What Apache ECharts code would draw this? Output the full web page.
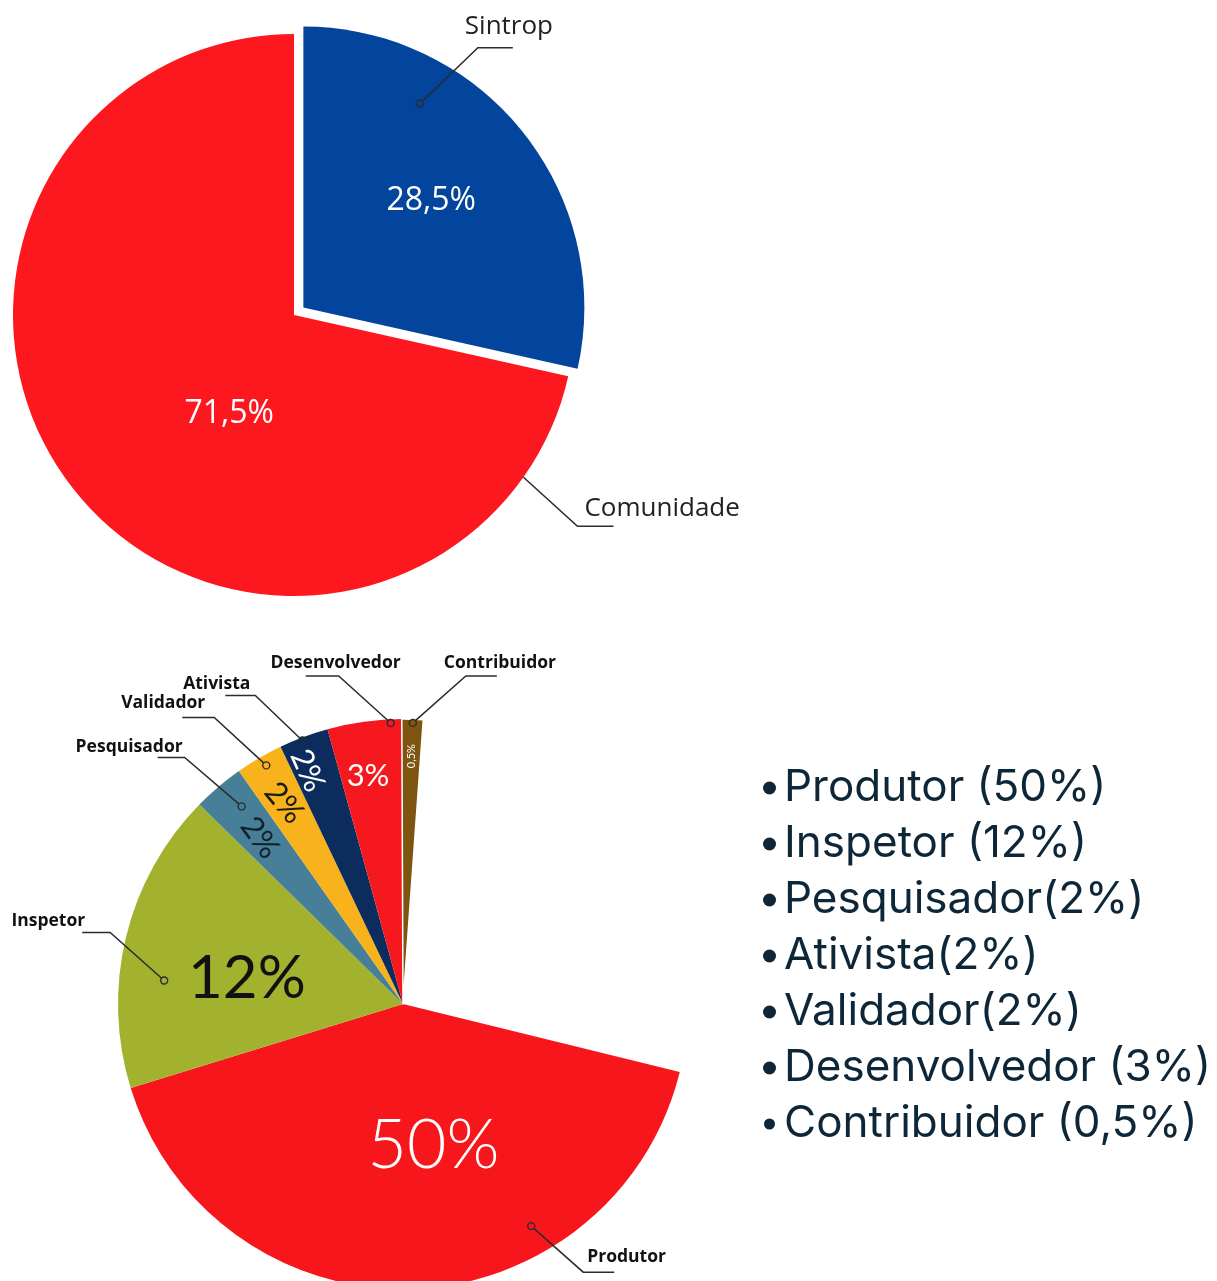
<!DOCTYPE html>
<html>
<head>
<meta charset="utf-8">
<title>Sintrop</title>
<script src="https://cdn.jsdelivr.net/npm/echarts@6/dist/echarts.min.js"></script>
<style>
  html, body { margin: 0; padding: 0; background: #fff; }
  #main { width: 1217px; height: 1281px; }
</style>
</head>
<body>
<div id="main"></div>
<script>
// top pie
const shareNames = ['Sintrop', 'Comunidade'];
const shareValues = [28.5, 71.5];
const shareLabels = ['28,5%', '71,5%'];

// bottom pie - slice sizes as drawn (% of the full circle), clockwise from Produtor
const roleNames = ['Produtor', 'Inspetor', 'Pesquisador', 'Validador', 'Ativista', 'Desenvolvedor', 'Contribuidor'];
const roleShares = [41.4, 17.1, 2.9, 2.7, 2.8, 4.2, 1.2];
const roleLabels = ['50%', '12%', '2%', '2%', '2%', '3%', '0,5%'];
const blankShare = 27.7;

// list on the right
const legendNames = ['Produtor', 'Inspetor', 'Pesquisador', 'Ativista', 'Validador', 'Desenvolvedor', 'Contribuidor'];
const legendTexts = ['Produtor (50%)', 'Inspetor (12%)', 'Pesquisador(2%)', 'Ativista(2%)', 'Validador(2%)', 'Desenvolvedor (3%)', 'Contribuidor (0,5%)'];

const topColors = ['#03449c', '#fd171f'];
const roleColors = ['#f8161d', '#a3b22e', '#467f97', '#f8b21b', '#0b2c5d', '#f5191f', '#7d5511'];
const lineColor = '#2b2b2b';

const topLayout = { center: [294, 315], radius: 281, startAngle: 90 };
const botLayout = { center: [403, 1004], radius: 285, startAngle: -13.8 };

// callouts + inside labels, one entry per slice
// at / inAt: position inside the slice (0..1), r / inR: fraction of radius
const topMarks = [
  { at: 0.30, r: 0.875, dot: true, leg: [58, -56], run: 35, text: [-13, -21], align: 'left',
    inAt: 0.49, inR: 0.635, inFont: 32, inWeight: 400, inColor: '#fff', inRot: 0 },
  { at: 0.088, r: 1.0, dot: false, leg: [54, 49], run: 36, text: [7, -18], align: 'left',
    inAt: 0.43, inR: 0.42, inFont: 32, inWeight: 400, inColor: '#fff', inRot: 0 }
];
const roleMarks = [
  { at: 0.31, r: 0.90, dot: true, leg: [52, 46], run: 31, text: [4, -15], align: 'left',
    inAt: 0.43, inR: 0.51, inFont: 68, inWeight: 300, inColor: '#fff', inRot: 0 },
  { at: 0.37, r: 0.842, dot: true, leg: [-54, -48], run: -28, text: [-25, -11], align: 'right',
    inAt: 0.43, inR: 0.555, inFont: 60, inWeight: 400, inColor: '#111', inRot: 0 },
  { at: 0.61, r: 0.895, dot: true, leg: [-57, -49], run: -27, text: [-2, -10], align: 'right',
    inAt: 0.47, inR: 0.77, inFont: 31, inWeight: 400, inColor: '#13212c', inRot: -54 },
  { at: 0.55, r: 0.965, dot: true, leg: [-52, -48], run: -32, text: [-9, -14], align: 'right',
    inAt: 0.47, inR: 0.82, inFont: 31, inWeight: 400, inColor: '#1a1a1a', inRot: -50 },
  { at: 0.45, r: 0.99, dot: true, leg: [-47, -45], run: -30, text: [-5, -11], align: 'right',
    inAt: 0.32, inR: 0.885, inFont: 31, inWeight: 400, inColor: '#fff', inRot: -66 },
  { at: 0.85, r: 0.987, dot: true, leg: [-52, -47], run: -33, text: [62, -13], align: 'right',
    inAt: 0.44, inR: 0.81, inFont: 31, inWeight: 400, inColor: '#fff', inRot: 0 },
  { at: 0.52, r: 0.987, dot: true, leg: [53, -47], run: 31, text: [-22, -13], align: 'left',
    inAt: 0.5, inR: 0.87, inFont: 11, inWeight: 400, inColor: '#fff', inRot: 90 }
];

function calloutSeries(polarIndex, names, shares, labels, colors, marks, nameFont, inFamily) {
  const starts = [];
  let acc = 0;
  shares.forEach(v => { starts.push(acc); acc += v; });
  const deg = (i, at) => (starts[i] + shares[i] * at) * 3.6;
  return {
    type: 'custom',
    coordinateSystem: 'polar',
    polarIndex: polarIndex,
    silent: true,
    z: 5,
    data: marks.map((m, i) => [m.r, deg(i, m.at)]),
    renderItem(params, api) {
      const i = params.dataIndex;
      const m = marks[i];
      const p = api.coord([api.value(0), api.value(1)]);
      const elbow = [p[0] + m.leg[0], p[1] + m.leg[1]];
      const end = [elbow[0] + m.run, elbow[1]];
      const inner = api.coord([m.inR, deg(i, m.inAt)]);
      const children = [
        {
          type: 'polyline',
          shape: { points: [p, elbow, end] },
          style: { stroke: lineColor, lineWidth: 1.5, fill: null }
        },
        {
          type: 'text',
          x: elbow[0] + m.text[0],
          y: elbow[1] + m.text[1],
          style: Object.assign({ text: names[i], align: m.align, verticalAlign: 'middle' }, nameFont)
        },
        {
          type: 'text',
          x: inner[0],
          y: inner[1],
          rotation: m.inRot * Math.PI / 180,
          style: {
            text: labels[i], align: 'center', verticalAlign: 'middle',
            fill: m.inColor, fontSize: m.inFont, fontWeight: m.inWeight, fontFamily: inFamily
          }
        }
      ];
      if (m.dot) {
        children.push({
          type: 'circle',
          shape: { cx: p[0], cy: p[1], r: 3.5 },
          style: { fill: colors[i], stroke: lineColor, lineWidth: 1.4 }
        });
      }
      return { type: 'group', children: children };
    }
  };
}

const chart = echarts.init(document.getElementById('main'));

const hiddenAngle = (idx, start) => ({
  polarIndex: idx, type: 'value', min: 0, max: 360, startAngle: start, clockwise: true, show: false
});
const hiddenRadius = idx => ({ polarIndex: idx, type: 'value', min: 0, max: 1, show: false });

const option = {
  backgroundColor: '#fff',
  animation: false,
  polar: [
    { center: topLayout.center, radius: topLayout.radius },
    { center: botLayout.center, radius: botLayout.radius }
  ],
  angleAxis: [hiddenAngle(0, topLayout.startAngle), hiddenAngle(1, botLayout.startAngle)],
  radiusAxis: [hiddenRadius(0), hiddenRadius(1)],
  legend: {
    orient: 'vertical',
    left: 757,
    top: 755,
    data: legendNames,
    icon: 'circle',
    itemWidth: 19,
    itemHeight: 13,
    itemGap: 0,
    selectedMode: false,
    itemStyle: { color: '#0e2738' },
    formatter: name => legendTexts[legendNames.indexOf(name)],
    textStyle: { fontFamily: 'Inter', fontSize: 44, color: '#0e2738', lineHeight: 56 }
  },
  series: [
    {
      type: 'pie',
      center: topLayout.center,
      radius: topLayout.radius,
      startAngle: topLayout.startAngle,
      clockwise: true,
      selectedMode: 'single',
      selectedOffset: 12,
      avoidLabelOverlap: false,
      label: { show: false },
      labelLine: { show: false },
      emphasis: { disabled: true },
      select: { itemStyle: { borderWidth: 0 } },
      data: shareNames.map((n, i) => ({
        name: n, value: shareValues[i], selected: i === 0, itemStyle: { color: topColors[i] }
      }))
    },
    {
      type: 'pie',
      center: botLayout.center,
      radius: botLayout.radius,
      startAngle: botLayout.startAngle,
      clockwise: true,
      avoidLabelOverlap: false,
      label: { show: false },
      labelLine: { show: false },
      emphasis: { disabled: true },
      data: roleNames.map((n, i) => ({
        name: n,
        value: roleShares[i],
        itemStyle: n === 'Contribuidor'
          ? { color: roleColors[i], borderColor: '#fff', borderWidth: 1.5 }
          : { color: roleColors[i] }
      })).concat([{ name: '', value: blankShare, itemStyle: { color: 'rgba(0,0,0,0)' } }])
    },
    calloutSeries(0, shareNames, shareValues, shareLabels, topColors, topMarks,
      { fill: '#222', fontSize: 26, fontFamily: 'Open Sans' }, 'Open Sans'),
    calloutSeries(1, roleNames, roleShares, roleLabels, roleColors, roleMarks,
      { fill: '#111', fontSize: 17.5, fontWeight: 'bold', fontFamily: 'Open Sans' }, 'Lato')
  ]
};

chart.setOption(option);
</script>
</body>
</html>
